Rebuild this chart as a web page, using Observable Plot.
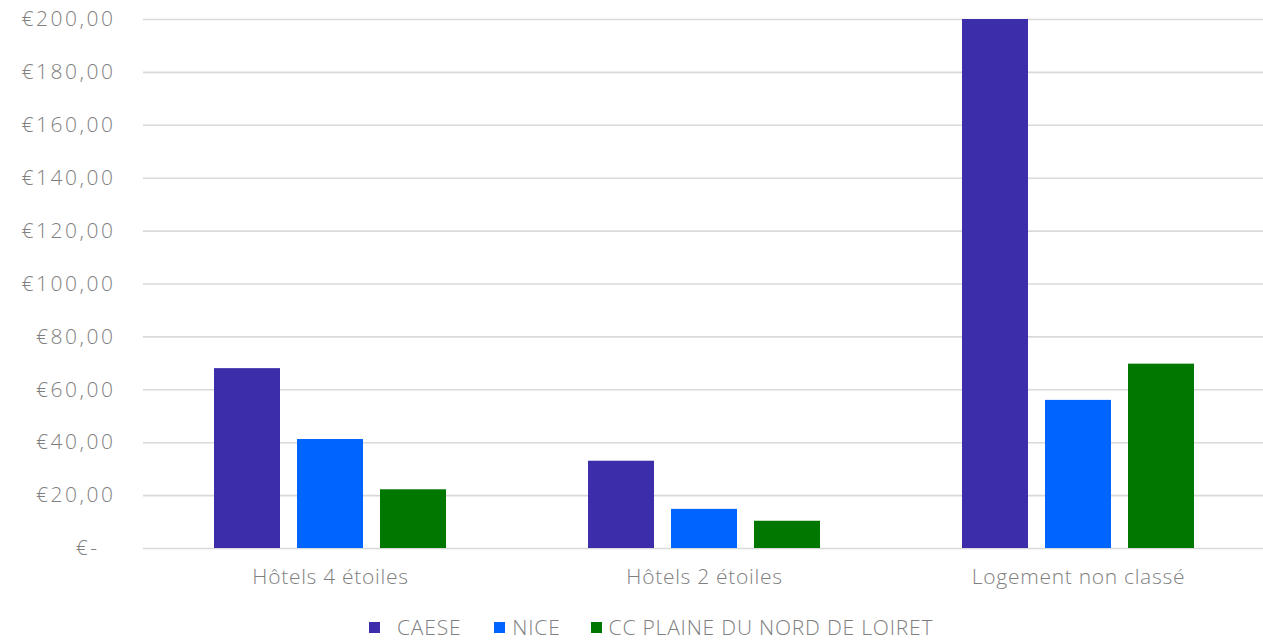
<!DOCTYPE html>
<html>
<head>
<meta charset="utf-8">
<script src="https://cdn.jsdelivr.net/npm/d3@7"></script>
<script src="https://cdn.jsdelivr.net/npm/@observablehq/plot@0.6"></script>
<style>
  html, body { margin: 0; padding: 0; background: #fff; overflow: hidden; }
  #chart { width: 1267px; }
  .legend { display: flex; height: 41px; align-items: center; font-family: "Open Sans", sans-serif; font-weight: 300; font-size: 21px; letter-spacing: 0.8px; color: #7f7f7f; padding-left: 369px; padding-top: 13px; box-sizing: border-box; }
  .legend .item { display: flex; align-items: center; }
  .legend .sw { width: 11px; height: 11px; display: inline-block; margin-right: 7px; }
  .yax text { letter-spacing: 2.5px; }
  .fxax text { letter-spacing: 0.7px; }
</style>
</head>
<body>
<div id="chart"></div>
<script>
const categories = ["Hôtels 4 étoiles", "Hôtels 2 étoiles", "Logement non classé"];
const series = ["CAESE", "NICE", "CC PLAINE DU NORD DE LOIRET"];
const colors = ["#3c2daa", "#0064ff", "#007800"];
const caese = [68, 33, 200];
const nice = [41.2, 14.8, 56];
const ccPlaine = [22.2, 10.3, 69.7];
const yTicks = [0, 20, 40, 60, 80, 100, 120, 140, 160, 180, 200];

const values = [caese, nice, ccPlaine];
const data = [];
categories.forEach((c, i) => series.forEach((s, j) => data.push({category: c, series: s, value: values[j][i]})));

const fmt = d => d === 0 ? "€-\u00a0\u00a0" : "€" + d.toFixed(2).replace(".", ",");

const chart = Plot.plot({
  width: 1267,
  height: 600,
  marginTop: 19,
  marginBottom: 52,
  marginLeft: 142,
  marginRight: 1,
  style: {fontFamily: "'Open Sans', sans-serif", fontWeight: 300, fontSize: "21px", color: "#7f7f7f"},
  fx: {domain: categories, padding: 0, label: null, axis: null},
  x: {domain: series, paddingInner: 0.208, paddingOuter: 0.853, axis: null},
  y: {domain: [0, 200], ticks: yTicks, label: null, axis: null},
  color: {domain: series, range: colors},
  marks: [
    Plot.ruleY(yTicks, {stroke: "#d9d9d9", strokeWidth: 1.6}),
    Plot.barY(data, {fx: "category", x: "series", y: "value", fill: "series", clip: true}),
    Plot.axisY({ticks: yTicks, tickFormat: fmt, tickSize: 0, tickPadding: 28, fontSize: 21, fill: "#7f7f7f", label: null, className: "yax"}),
    Plot.axisFx({anchor: "bottom", tickSize: 0, tickPadding: 21, fontSize: 21, fill: "#7f7f7f", label: null, className: "fxax"})
  ]
});
document.getElementById("chart").appendChild(chart);

const legend = document.createElement("div");
legend.className = "legend";
const gaps = [0, 33, 30];
series.forEach((s, j) => {
  const item = document.createElement("div");
  item.className = "item";
  item.style.marginLeft = gaps[j] + "px";
  const sw = document.createElement("span");
  sw.className = "sw";
  sw.style.background = colors[j];
  if (j === 0) sw.style.marginRight = "17px";
  item.appendChild(sw);
  const t = document.createElement("span");
  t.textContent = s;
  item.appendChild(t);
  legend.appendChild(item);
});
document.getElementById("chart").appendChild(legend);
</script>
</body>
</html>
